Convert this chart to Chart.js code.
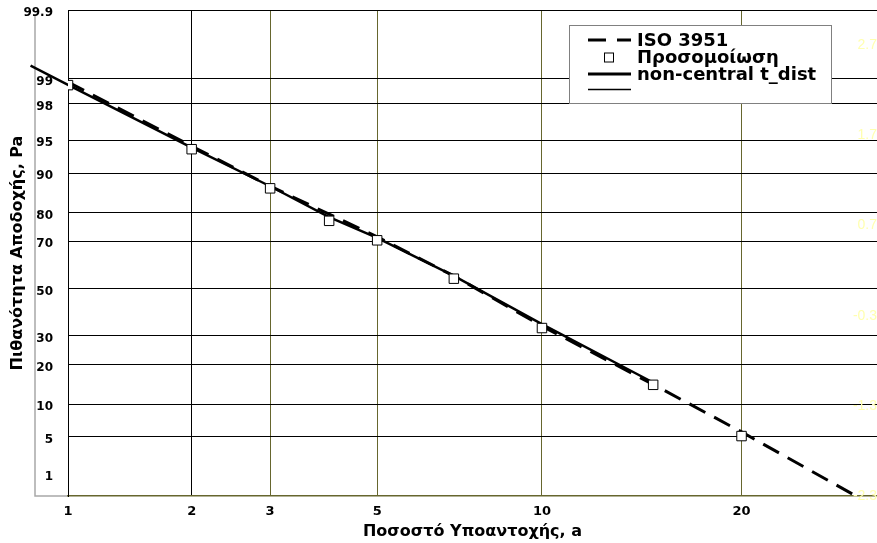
<!DOCTYPE html>
<html>
<head>
<meta charset="utf-8">
<script src="https://cdn.jsdelivr.net/npm/chart.js@4.4.1/dist/chart.umd.min.js"></script>
<style>
html,body{margin:0;padding:0;background:#fff;}
#wrap{width:877px;height:543px;}
</style>
</head>
<body>
<div id="wrap"><canvas id="chart" width="877" height="543"></canvas></div>
<script>
// a = percent nonconforming, Pa = acceptance probability (both in %)
const ISO_A  = [1, 2, 3, 5, 7, 10, 15, 20, 27.5];
const ISO_PA = [98.9, 94.3, 87.2, 71.7, 55.6, 33.9, 14.4, 5.6, 1.14];
const SIM_A  = [1, 2, 3, 4, 5, 7, 10, 15, 20];
const SIM_PA = [98.8, 93.9, 86.7, 77.4, 70.4, 54.4, 33.1, 14.3, 5.1];
const NCT_A  = [0.8, 1, 2, 3, 4, 5, 7, 10, 15];
const NCT_PA = [99.33, 98.81, 94.1, 87.2, 78.6, 71.3, 55.6, 34.7, 14.9];

const A_TICKS  = [1, 2, 3, 5, 10, 20];
const PA_TICKS = [1, 5, 10, 20, 30, 50, 70, 80, 90, 95, 98, 99, 99.9];
const Z_TICKS  = [-2.3, -1.3, -0.3, 0.7, 1.7, 2.7];   // right axis, pale yellow

const OLIVE = '#66662e';

// ========== normal probability paper ==========
function probit(p){
  const a=[-3.969683028665376e+01,2.209460984245205e+02,-2.759285104469687e+02,1.383577518672690e+02,-3.066479806614716e+01,2.506628277459239e+00];
  const b=[-5.447609879822406e+01,1.615858368580409e+02,-1.556989798598866e+02,6.680131188771972e+01,-1.328068155288572e+01];
  const c=[-7.784894002430293e-03,-3.223964580411365e-01,-2.400758277161838e+00,-2.549732539343734e+00,4.374664141464968e+00,2.938163982698783e+00];
  const d=[7.784695709041462e-03,3.224671290700398e-01,2.445134137142996e+00,3.754408661907416e+00];
  const pl=0.02425;
  let q,r;
  if(p<pl){
    q=Math.sqrt(-2*Math.log(p));
    return (((((c[0]*q+c[1])*q+c[2])*q+c[3])*q+c[4])*q+c[5])/((((d[0]*q+d[1])*q+d[2])*q+d[3])*q+1);
  }
  if(p<=1-pl){
    q=p-0.5; r=q*q;
    return (((((a[0]*r+a[1])*r+a[2])*r+a[3])*r+a[4])*r+a[5])*q/(((((b[0]*r+b[1])*r+b[2])*r+b[3])*r+b[4])*r+1);
  }
  q=Math.sqrt(-2*Math.log(1-p));
  return -(((((c[0]*q+c[1])*q+c[2])*q+c[3])*q+c[4])*q+c[5])/((((d[0]*q+d[1])*q+d[2])*q+d[3])*q+1);
}

const X_MIN = probit(0.01), X_MAX = -0.543;
const Y_MIN = -2.3, Y_MAX = probit(0.999);

function pts(as, pas){
  return as.map((v,i)=>({x: probit(v/100), y: probit(pas[i]/100)}));
}

const xTickVals = A_TICKS.map(v=>probit(v/100));
// the "1" label sits below the axis floor in the original, it was pinned just above the bottom edge
const yTickVals = PA_TICKS.map(p=>{
  const z = probit(p/100);
  return z < Y_MIN ? Y_MIN + 0.24 : Math.min(z, Y_MAX);
});
const yNoGrid = PA_TICKS.map(p=>probit(p/100) < Y_MIN);

function noPad(s){ s.paddingTop = 0; s.paddingBottom = 0; s.paddingLeft = 0; s.paddingRight = 0; }

Chart.defaults.font.family = '"DejaVu Sans", sans-serif';
Chart.defaults.font.weight = 'bold';
Chart.defaults.color = '#000';

// ========== plugins ==========
const grayFrame = {
  id:'grayFrame',
  beforeDraw(chart){
    const {ctx, chartArea:{left, bottom, top}} = chart;
    ctx.save();
    ctx.strokeStyle='#a8a8a8'; ctx.lineWidth=1.5;
    ctx.beginPath();
    ctx.moveTo(35, top+4); ctx.lineTo(35, bottom); ctx.lineTo(left, bottom);
    ctx.stroke();
    ctx.restore();
  }
};

const boxLegend = {
  id:'boxLegend',
  afterDraw(chart){
    const ctx = chart.ctx;
    const x0=569.5, y0=25.5, w=262, h=78;
    const rows=[41, 58.5, 75, 90.5];
    ctx.save();
    ctx.fillStyle='#fff'; ctx.strokeStyle='#808080'; ctx.lineWidth=1;
    ctx.fillRect(x0,y0,w,h); ctx.strokeRect(x0,y0,w,h);
    chart.data.datasets.forEach((ds,i)=>{
      const y=rows[i];
      ctx.save();
      if(ds.showLine){
        ctx.strokeStyle=ds.borderColor;
        ctx.lineWidth=ds.legendWidth||ds.borderWidth;
        ctx.setLineDash(ds.borderDash ? [18,11] : []);
        ctx.beginPath(); ctx.moveTo(588,y-1); ctx.lineTo(631,y-1); ctx.stroke();
      }else{
        ctx.fillStyle=ds.pointBackgroundColor; ctx.strokeStyle=ds.pointBorderColor; ctx.lineWidth=1;
        ctx.fillRect(604.5,y-5.5,9,9); ctx.strokeRect(604.5,y-5.5,9,9);
      }
      ctx.restore();
      if(ds.label){
        ctx.fillStyle='#000';
        ctx.font='bold 18px "DejaVu Sans"';
        ctx.textBaseline='middle';
        ctx.fillText(ds.label, 637, y);
      }
    });
    ctx.restore();
  }
};

// ========== chart ==========
const chart = new Chart(document.getElementById('chart').getContext('2d'),{
  type:'scatter',
  data:{datasets:[
    {label:'ISO 3951', data:pts(ISO_A,ISO_PA), showLine:true, borderColor:'#000', borderWidth:3,
     borderDash:[18,10], pointRadius:0, order:2},
    {label:'Προσομοίωση', data:pts(SIM_A,SIM_PA), showLine:false, pointStyle:'rect', pointRadius:6.7,
     pointBackgroundColor:'#fff', pointBorderColor:'#000', pointBorderWidth:1, order:0},
    {label:'non-central t_dist', data:pts(NCT_A,NCT_PA), showLine:true, borderColor:'#000', borderWidth:2.4,
     legendWidth:2.8, pointRadius:0, clip:false, order:1},
    {label:'', data:[], showLine:true, borderColor:'#000', borderWidth:1.3, pointRadius:0, order:3}
  ]},
  options:{
    responsive:false,
    animation:false,
    layout:{autoPadding:false, padding:{top:10,left:0,right:0,bottom:0}},
    plugins:{legend:{display:false}, tooltip:{enabled:false}},
    scales:{
      x:{
        type:'linear', min:X_MIN, max:X_MAX,
        afterBuildTicks:s=>{ s.ticks = xTickVals.map(v=>({value:v})); },
        afterFit:s=>{ s.height = 47; noPad(s); },
        ticks:{autoSkip:false, maxRotation:0, padding:8, font:{size:13, weight:'bold'},
               callback:(v,i)=>String(A_TICKS[i])},
        grid:{drawTicks:false, color:ctx=>ctx.index<2 ? '#000' : OLIVE, lineWidth:1},
        border:{color:OLIVE, width:1.5},
        title:{display:true, text:'Ποσοστό Υποαντοχής, a', font:{size:16, weight:'bold'}, padding:{top:0,bottom:2}}
      },
      y:{
        type:'linear', position:'left', min:Y_MIN, max:Y_MAX,
        afterBuildTicks:s=>{ s.ticks = yTickVals.map(v=>({value:v})); },
        afterFit:s=>{ s.width = 68; noPad(s); },
        ticks:{autoSkip:false, padding:15, labelOffset:3, font:{size:12, weight:'bold'},
               callback:(v,i)=>String(PA_TICKS[i])},
        grid:{drawTicks:false, color:ctx=>yNoGrid[ctx.index] ? 'rgba(0,0,0,0)' : '#000', lineWidth:1},
        border:{color:'#000', width:1},
        title:{display:true, text:'Πιθανότητα Αποδοχής, Pa', font:{size:16, weight:'bold'}, padding:{top:8,bottom:0}}
      },
      y2:{
        type:'linear', position:'right', min:Y_MIN, max:Y_MAX,
        afterBuildTicks:s=>{ s.ticks = Z_TICKS.map(v=>({value:v})); },
        afterFit:s=>{ s.width = 0; noPad(s); },
        ticks:{mirror:true, padding:0, autoSkip:false, color:'#ffffb0',
               font:{family:'"Liberation Sans", Arial, sans-serif', size:14, weight:'normal'},
               callback:v=>String(v)},
        grid:{display:false, drawTicks:false},
        border:{display:false}
      }
    }
  },
  plugins:[grayFrame, boxLegend]
});
</script>
</body>
</html>
